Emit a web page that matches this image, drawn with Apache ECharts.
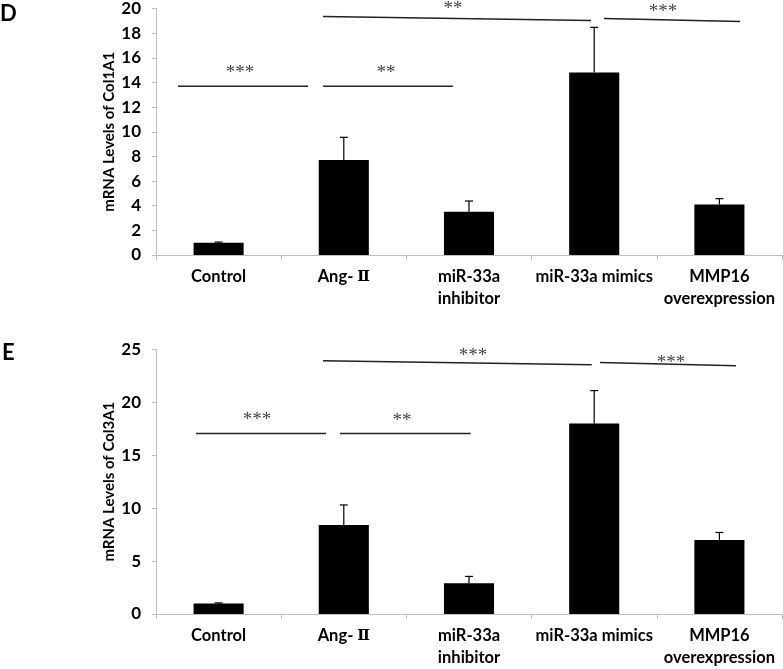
<!DOCTYPE html>
<html><head><meta charset="utf-8">
<script src="https://cdn.jsdelivr.net/npm/echarts@6/dist/echarts.min.js"></script>
<style>html,body{margin:0;padding:0;background:#fff}#c{width:783px;height:669px}</style>
</head><body><div id="c"></div>
<script>
const categories = ['Control', 'Ang-Ⅱ', 'miR-33a\ninhibitor', 'miR-33a mimics', 'MMP16\noverexpression'];
// Panel D: Col1A1
const col1Values = [1.0, 7.7, 3.5, 14.8, 4.1];
const col1ErrTop = [1.05, 9.55, 4.38, 18.47, 4.57];
const col1Ticks = [0, 2, 4, 6, 8, 10, 12, 14, 16, 18, 20];
// significance bars: [x1, y1, x2, y2] in category-index / value units
const col1Sig = [[-0.324, 13.7, 0.714, 13.7], [0.834, 13.7, 1.872, 13.7], [0.834, 19.35, 2.974, 19.03], [3.078, 19.19, 4.165, 18.95]];
const col1SigText = [[0.171, 15.0, '***'], [1.337, 15.0, '**'], [1.872, 20.24, '**'], [3.55, 19.96, '***']];
// Panel E: Col3A1
const col3Values = [1.0, 8.4, 2.9, 18.0, 7.0];
const col3ErrTop = [1.05, 10.3, 3.55, 21.1, 7.7];
const col3Ticks = [0, 5, 10, 15, 20, 25];
const col3Sig = [[-0.18, 17.05, 0.858, 17.05], [0.970, 17.05, 2.014, 17.05], [0.834, 23.92, 2.98, 23.55], [3.046, 23.76, 4.132, 23.45]];
const col3SigText = [[0.307, 18.59, '***'], [1.465, 18.49, '**'], [2.032, 24.67, '***'], [3.613, 24.01, '***']];

const FONT = 'Lato, "Open Sans", sans-serif';
const AXC = '#bfbfbf';

function errRender(params, api) {
  const x = api.value(0), v = api.value(1), t = api.value(2);
  const p0 = api.coord([x, v]), p1 = api.coord([x, t]);
  const st = {stroke: '#000', lineWidth: 1.2};
  return {type: 'group', children: [
    {type: 'line', shape: {x1: p0[0], y1: p0[1], x2: p1[0], y2: p1[1]}, style: st},
    {type: 'line', shape: {x1: p1[0] - 4, y1: p1[1], x2: p1[0] + 4, y2: p1[1]}, style: st}
  ]};
}
function sigRender(params, api) {
  const a = api.coord([api.value(0), api.value(1)]), b = api.coord([api.value(2), api.value(3)]);
  return {type: 'line', shape: {x1: a[0], y1: a[1], x2: b[0], y2: b[1]}, style: {stroke: '#222', lineWidth: 1.5}};
}

function yAx(gi, max, interval, name) {
  return {type: 'value', gridIndex: gi, min: 0, max: max, interval: interval,
    name: name, nameLocation: 'middle', nameGap: 39, nameRotate: 90, nameMoveOverlap: false,
    nameTextStyle: {fontFamily: FONT, fontWeight: 'bold', fontSize: 15, color: '#000'},
    axisLine: {show: true, onZero: false, lineStyle: {color: AXC, width: 1}},
    axisTick: {show: true, length: 4, lineStyle: {color: AXC}},
    axisLabel: {fontFamily: FONT, fontWeight: 'bold', fontSize: 17, color: '#000', margin: 15},
    splitLine: {show: false}};
}
function xCat(gi) {
  return {type: 'category', gridIndex: gi, data: categories,
    axisLine: {onZero: false, lineStyle: {color: AXC, width: 1}},
    axisTick: {show: true, length: 5, alignWithLabel: false, lineStyle: {color: AXC}},
    axisLabel: {fontFamily: FONT, fontWeight: 'bold', fontSize: 16.5, color: '#000', margin: 11, lineHeight: 22, interval: 0,
      formatter: v => v.indexOf('Ⅱ') >= 0 ? v.replace('Ⅱ', '{r|Ⅱ}') : v,
      rich: {r: {fontFamily: '"DejaVu Serif", "Noto Sans CJK SC", serif', fontWeight: 'bold', fontSize: 15, color: '#000', padding: [0, 0, 0, 4]}}}};
}
function xVal(gi) {
  return {type: 'value', gridIndex: gi, min: -0.5, max: 4.5, show: false};
}
function panelSeries(xi, xvi, yi, values, errTop, sig, sigText) {
  return [
    {type: 'bar', xAxisIndex: xi, yAxisIndex: yi, data: values, barWidth: '40%',
      itemStyle: {color: '#000'}, silent: true},
    {type: 'custom', xAxisIndex: xi, yAxisIndex: yi, renderItem: errRender,
      data: values.map((v, i) => [i, v, errTop[i]]), silent: true, z: 3},
    {type: 'custom', xAxisIndex: xvi, yAxisIndex: yi, renderItem: sigRender, clip: false,
      data: sig, silent: true},
    {type: 'custom', xAxisIndex: xvi, yAxisIndex: yi, clip: false, silent: true,
      renderItem: (params, api) => {
        const p = api.coord([api.value(0), api.value(1)]);
        return {type: 'text', style: {text: sigText[params.dataIndex][2], x: p[0], y: p[1] + 3,
          align: 'center', verticalAlign: 'middle', font: '19px "Liberation Serif", serif', fill: '#444'}};
      },
      data: sigText.map(d => [d[0], d[1]])}
  ];
}

const chart = echarts.init(document.getElementById('c'), null, {renderer: 'canvas'});
chart.setOption({
  animation: false,
  backgroundColor: '#fff',
  grid: [
    {left: 156, top: 7, width: 626, height: 248},
    {left: 156, top: 349.3, width: 626, height: 267.4}
  ],
  xAxis: [xCat(0), xVal(0), xCat(1), xVal(1)],
  yAxis: [
    yAx(0, col1Ticks[col1Ticks.length - 1], col1Ticks[1] - col1Ticks[0], 'mRNA Levels of Col1A1'),
    yAx(1, col3Ticks[col3Ticks.length - 1], col3Ticks[1] - col3Ticks[0], 'mRNA Levels of Col3A1')
  ],
  graphic: [
    {type: 'text', left: 0, top: 3, style: {text: 'D', font: 'bold 22px ' + FONT, fill: '#000'}},
    {type: 'text', left: 2, top: 342, style: {text: 'E', font: 'bold 22px ' + FONT, fill: '#000'}}
  ],
  series: [].concat(
    panelSeries(0, 1, 0, col1Values, col1ErrTop, col1Sig, col1SigText),
    panelSeries(2, 3, 1, col3Values, col3ErrTop, col3Sig, col3SigText)
  )
});
</script></body></html>
